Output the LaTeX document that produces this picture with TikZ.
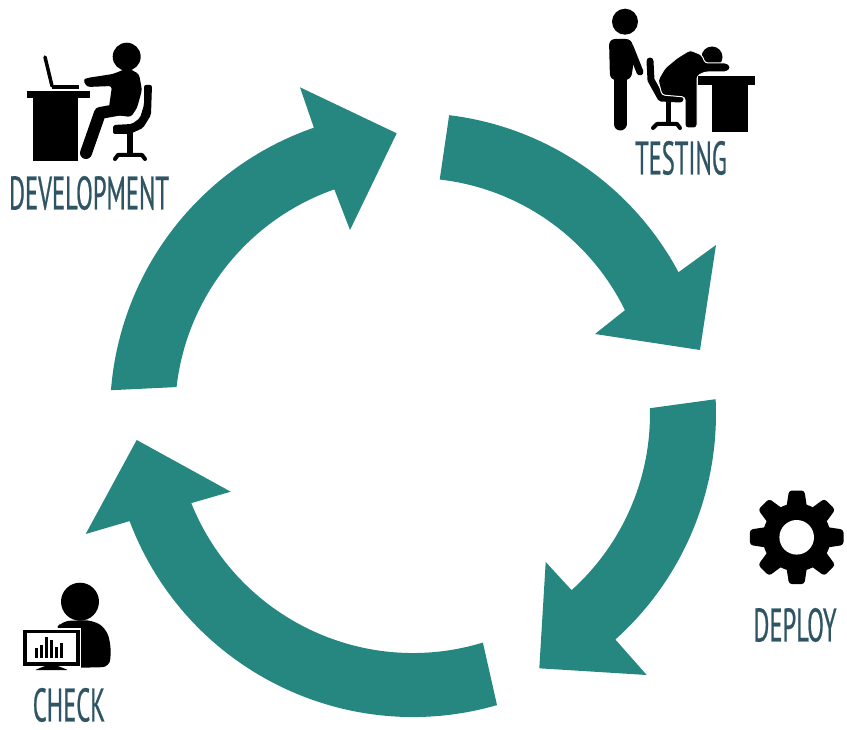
\documentclass[tikz,border=0pt]{standalone}
\usepackage{fontspec}
\newfontfamily\labelfont[FakeStretch=0.52, FakeBold=0.5]{PT Sans}
\definecolor{cycleteal}{HTML}{258780}
\definecolor{labelblue}{HTML}{2F5564}
\tikzset{
  band/.style={fill=cycleteal, draw=none},
  caption/.style={text=labelblue, inner sep=0pt, font=\labelfont\fontsize{47}{47}\selectfont},
  limb/.style={draw=black, line cap=round, line join=round},
}

\begin{document}
\begin{tikzpicture}[x=1pt, y=-1pt]
      \useasboundingbox (0, 0) rectangle (847, 730);

      % the four arrows, origin at the centre of the ring
      \begin{scope}[shift={(413, 414)}, y=1pt]
        \fill[band] (175.5:303) arc[start angle=175.5, end angle=109.1, radius=303pt]
          -- (-113, 326.7) -- (-16.3, 280.7) -- (-63, 184) -- (109.3:238)
          arc[start angle=109.3, end angle=173.5, radius=238pt] -- cycle;
        \fill[band] (83.1:301) arc[start angle=83.1, end angle=28.1, radius=301pt]
          -- (303, 169) -- (287, 64) -- (182, 80) -- (26.1:236)
          arc[start angle=26.1, end angle=83.5, radius=236pt] -- cycle;
        \fill[band] (2.8:303) arc[start angle=2.8, end angle=-48.1, radius=303pt]
          -- (233.7, -261) -- (126.3, -254.3) -- (132.7, -148) -- (-48:237)
          arc[start angle=-48, end angle=1.4, radius=237pt] -- cycle;
        \fill[band] (-73.9:303) arc[start angle=-73.9, end angle=-159.3, radius=303pt]
          -- (-327.3, -120) -- (-276.3, -26) -- (-182.3, -77.7) -- (-158.1:239)
          arc[start angle=-158.1, end angle=-73, radius=239pt] -- cycle;
      \end{scope}

      % development
      \fill (126.7, 56.7) circle[radius=14pt];
      \fill (27, 91) rectangle (90, 98);
      \fill (33, 98) rectangle (78, 161);
      \draw[limb, line width=3.5pt] (45, 57) -- (52, 86);
      \fill (52, 85) rectangle (79, 89);
      \fill[rounded corners=3pt] (83, 80) -- (87, 78) -- (113, 74) -- (128, 68) -- (139, 74) -- (142, 90) -- (137, 108) -- (131, 117) -- (108, 114) -- (112, 86) -- (87, 87) -- cycle;
      \draw[limb, line width=12pt] (128, 108) -- (100, 113) -- (86, 153);
      \fill[rounded corners=2pt] (144, 85) -- (152, 85) -- (151, 115) -- (143, 128) -- (130, 134) -- (113, 134) -- (113, 125) -- (132, 124) -- (140, 118) -- (144, 105) -- cycle;
      \fill (127, 133) rectangle (133, 155);
      \draw[limb, line width=4pt] (115, 159) -- (118, 155) -- (142, 155) -- (145, 159);
      \node[caption] (development) at (89, 193) {DEVELOPMENT};

      % testing
      \fill (625, 21.7) circle[radius=13pt];
      \draw[limb, line width=13pt] (620, 76) -- (620, 124);
      \fill[rounded corners=6pt] (609, 39) -- (632, 39) -- (634, 60) -- (631, 80) -- (610, 80) -- cycle;
      \draw[limb, line width=7pt] (630, 47) -- (640, 72);
      \draw[limb, line width=7pt] (650, 61) -- (651, 80) -- (661, 98) -- (680, 99);
      \fill (665.5, 100) rectangle (670.5, 124);
      \draw[limb, line width=4pt] (653, 128) -- (657, 124) -- (677, 124) -- (680, 128);
      \fill (712, 57) circle[radius=10.5pt];
      \filldraw[draw=white, line width=1pt, rounded corners=3pt] (658, 80) -- (665, 68) -- (677, 58) -- (690, 50) -- (702, 55) -- (705, 63) -- (728, 63) -- (731, 68) -- (727, 72) -- (705, 72) -- (697, 76) -- (697, 128) -- (685, 128) -- (685, 97) -- (662, 95) -- cycle;
      \fill (698, 76) rectangle (755, 85);
      \fill (712, 85) rectangle (748, 132);
      \node[caption] (testing) at (681, 158) {TESTING};

      % deploy
      \fill (796.7, 537.3) circle[radius=34pt];
      \foreach \a in {0, 45, ..., 315} {
        \fill[rotate around={\a:(796.7, 537.3)}, rounded corners=3pt] (786, 510) -- (789, 490.5) -- (804.4, 490.5) -- (807.4, 510) -- cycle;
      }
      \fill[white] (796.7, 537.3) circle[radius=17.3pt];
      \node[caption] (deploy) at (795, 625) {DEPLOY};

      % check
      \fill (80, 601.7) circle[radius=19pt];
      \fill[rounded corners=8pt] (55, 630) -- (62, 621) -- (92, 620) -- (106, 628) -- (111, 645) -- (110, 667) -- (70, 668) -- cycle;
      \fill[white] (21.5, 628) rectangle (81, 667.5);
      \fill (23, 629.5) rectangle (79.5, 666);
      \fill[white] (27, 633) rectangle (76, 662);
      \fill[rounded corners=1pt] (35, 670) -- (45, 666) -- (58, 666) -- (68, 670) -- cycle;
      \foreach \x/\t in {36.7/648, 41.7/645, 46.7/637, 51.7/640, 56.7/647, 61.7/643} {
        \fill (\x-1.5, \t) rectangle (\x+1.5, 658);
      }
      \node[caption] (check) at (69, 705) {CHECK};
\end{tikzpicture}
\end{document}
